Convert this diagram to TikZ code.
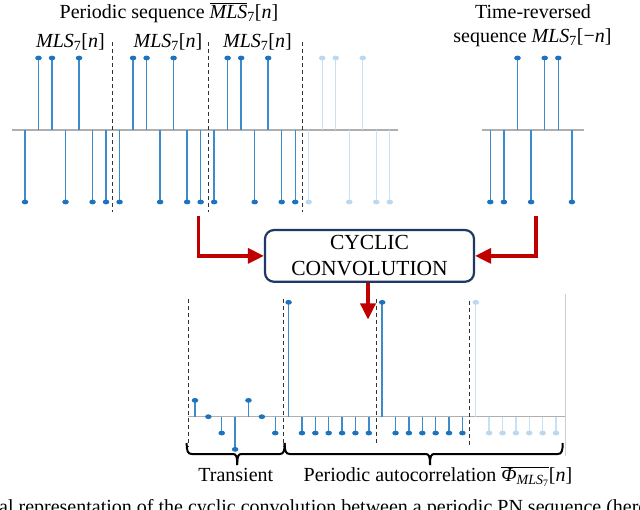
\documentclass[tikz,border=0pt]{standalone}
\usepackage{fontspec}
\setmainfont{Liberation Serif}
\usetikzlibrary{arrows.meta}
\definecolor{stemc}{RGB}{60,140,205}
\definecolor{dotc}{RGB}{30,115,190}
\definecolor{fadec}{RGB}{200,225,243}
\definecolor{fadedot}{RGB}{188,216,240}
\definecolor{axisc}{RGB}{175,175,175}
\definecolor{redc}{RGB}{192,0,0}
\definecolor{navyc}{RGB}{31,56,100}
\newcommand\stemdot[5]{%
  \draw[#4,line width=1.4pt] (#1,#2) -- (#1,#3);
  \fill[#5] (#1,#3) ellipse [x radius=3.3,y radius=2.4];}
\begin{document}
\begin{tikzpicture}[x=1pt,y=-1pt,
  lbl/.style={font=\fontsize{20}{23}\selectfont,inner sep=0pt},
  axisln/.style={axisc,line width=1.3pt},
  dashln/.style={black!80,line width=1pt,dash pattern=on 4pt off 3pt},
  redarr/.style={redc,line width=3.4pt,-{Triangle[length=16pt,width=15pt]}},
  convbox/.style={draw=navyc,line width=2.2pt,rounded corners=9pt,minimum width=209pt,minimum height=51.7pt,inner sep=0pt,align=center,font=\fontsize{21.5}{26}\selectfont},
  bracepath/.style={black,line width=2pt}]
\useasboundingbox (0,0) rectangle (640,510);
\clip (0,0) rectangle (640,510);
\fill[white] (0,0) rectangle (640,510);

% ---------- top-left periodic sequence ----------
\draw[axisln] (12,130) -- (397.7,130);
\foreach \p in {0,1,2,3}{
  \foreach \v [count=\k from 0] in {-1,1,1,-1,1,-1,-1}{
    \pgfmathsetmacro\xx{25+(7*\p+\k)*13.51}
    \pgfmathsetmacro\yy{130-72*\v}
    \ifnum\p=3
      \stemdot{\xx}{130}{\yy}{fadec}{fadedot}
    \else
      \stemdot{\xx}{130}{\yy}{stemc}{dotc}
    \fi
  }}
\foreach \xd in {112.7,208.3,302}{\draw[dashln] (\xd,42) -- (\xd,212);}
\node[lbl,anchor=base] (tpl) at (169,18.3) {Periodic sequence \(\overline{\mbox{\textit{MLS}}}\)\textsubscript{7}[\textit{n}]};
\node[lbl,anchor=base] (m1) at (70.5,47.5) {\textit{MLS}\textsubscript{7}[\textit{n}]};
\node[lbl,anchor=base] (m2) at (168,47.5) {\textit{MLS}\textsubscript{7}[\textit{n}]};
\node[lbl,anchor=base] (m3) at (257.5,47.5) {\textit{MLS}\textsubscript{7}[\textit{n}]};

% ---------- top-right reversed sequence ----------
\draw[axisln] (482.3,130) -- (584,130);
\foreach \v [count=\k from 0] in {-1,-1,1,-1,1,1,-1}{
  \pgfmathsetmacro\xx{490.3+\k*13.6}
  \pgfmathsetmacro\yy{130-72*\v}
  \stemdot{\xx}{130}{\yy}{stemc}{dotc}
}
\node[lbl,anchor=base] (tr1) at (533,19) {Time-reversed};
\node[lbl,anchor=base] (tr2) at (532.5,42.5) {sequence \textit{MLS}\textsubscript{7}[−\textit{n}]};

% ---------- convolution box and arrows ----------
\node[convbox] (box) at (369.5,255.9) {CYCLIC\\CONVOLUTION};
\coordinate (la) at (198.3,216);
\coordinate (ra) at (536,216);
\coordinate (dn) at (368,319.5);
\draw[redarr] (la) |- (box.west);
\draw[redarr] (ra) |- (box.east);
\draw[redarr] (box.south -| dn) -- (dn);

% ---------- bottom autocorrelation ----------
\draw[axisc!60,line width=0.8pt] (565,294) -- (565,456);
\draw[axisln] (188,416.7) -- (565,416.7);
\foreach \v [count=\k from 0] in {1,0,-1,-2,1,0,-1,7,-1,-1,-1,-1,-1,-1,7,-1,-1,-1,-1,-1,-1,7,-1,-1,-1,-1,-1,-1}{
  \pgfmathsetmacro\xx{195+\k*13.37}
  \pgfmathsetmacro\yy{416.7-16.34*\v}
  \ifnum\k>20
    \stemdot{\xx}{416.7}{\yy}{fadec}{fadedot}
  \else
    \stemdot{\xx}{416.7}{\yy}{stemc}{dotc}
  \fi
}
\foreach \xd/\ya/\yb in {188.3/299/447,283.3/299/447,376.7/299/445,469/301/447}{\draw[dashln] (\xd,\ya) -- (\xd,\yb);}

% braces
\draw[bracepath] (186.7,443) .. controls (186.7,451) and (187.7,454) .. (191.7,454) -- (232.7,454) .. controls (236.2,454) and (237.2,456) .. (237.2,465);
\draw[bracepath] (284.7,443) .. controls (284.7,451) and (283.7,454) .. (279.7,454) -- (241.7,454) .. controls (238.2,454) and (237.2,456) .. (237.2,465);
\draw[bracepath] (284.7,443) .. controls (284.7,451) and (285.7,454) .. (289.7,454) -- (425.5,454) .. controls (429,454) and (430,456) .. (430,465);
\draw[bracepath] (562.7,443) .. controls (562.7,451) and (561.7,454) .. (557.7,454) -- (434.5,454) .. controls (431,454) and (430,456) .. (430,465);
\node[lbl,anchor=base] (trn) at (235.8,481.5) {Transient};
\node[lbl,anchor=base] (pac) at (438,481.5) {Periodic autocorrelation \(\overline{\mbox{\textit{Φ}\textsubscript{\textit{MLS}\textsubscript{7}}}}\)[\textit{n}]};

% cut-off caption (only its top shows, as in the reference)
\node[lbl,anchor=base west] (cap) at (-1,513.5) {al representation of the cyclic convolution between a periodic PN sequence (here};
\end{tikzpicture}
\end{document}
